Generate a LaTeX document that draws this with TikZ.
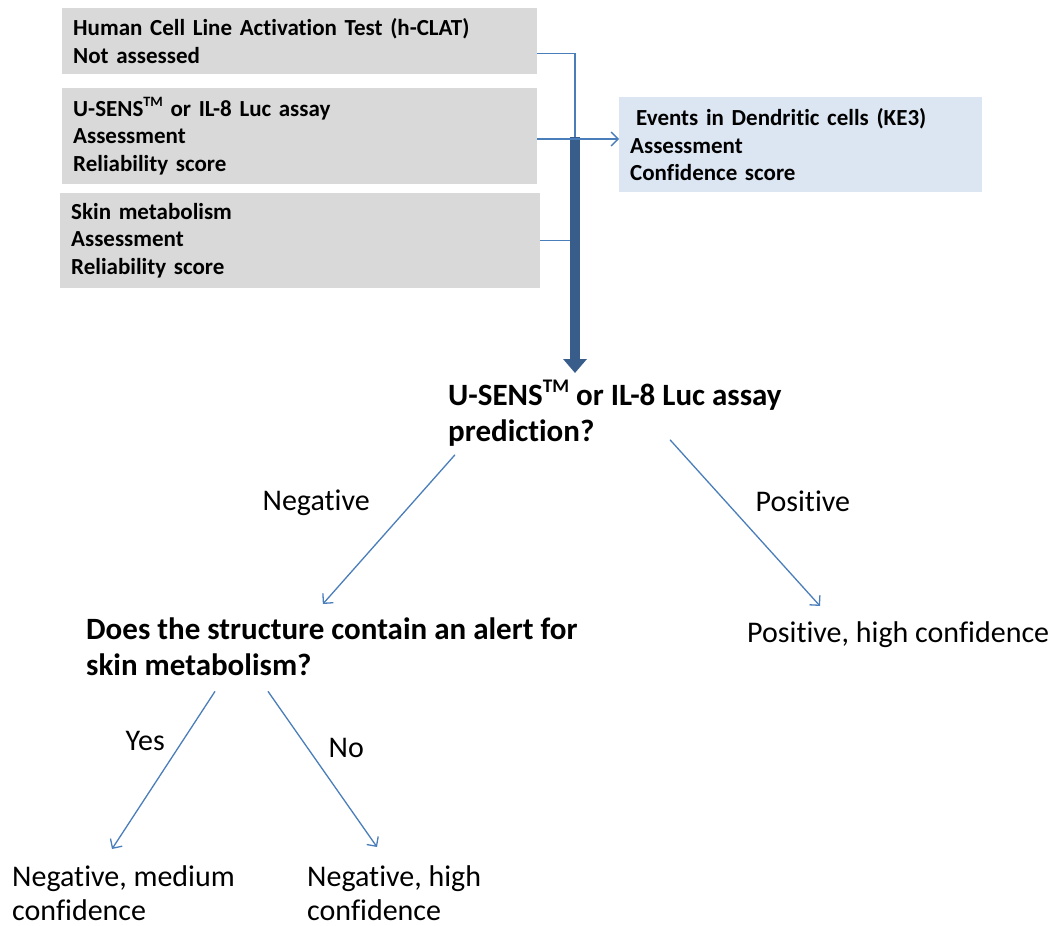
\documentclass[tikz,border=0pt]{standalone}
\usepackage{fontspec}
\setmainfont{Carlito}[Ligatures=NoCommon]
\usetikzlibrary{arrows.meta, positioning}

\definecolor{boxgrey}{RGB}{217,217,217}
\definecolor{dcblue}{RGB}{220,230,242}
\definecolor{lineblue}{RGB}{74,126,187}
\definecolor{bardark}{RGB}{56,93,138}

\newcommand{\tmark}{\raisebox{0.42em}{\scalebox{0.62}{TM}}}

\tikzset{
  inbox/.style={anchor=north west, fill=boxgrey, align=left, inner xsep=11pt, inner ysep=0pt,
    font=\fontsize{23}{27.5}\selectfont\bfseries},
  question/.style={anchor=north west, inner sep=0pt, align=left, font=\fontsize{31}{36}\selectfont\bfseries},
  answer/.style={inner sep=0pt, align=left, font=\fontsize{30}{34}\selectfont},
  flow/.style={draw=lineblue, line width=1.3pt},
  flowarrow/.style={flow, -{Straight Barb[length=7pt, width=14pt]}},
}

\begin{document}
\begin{tikzpicture}[x=1pt, y=-1pt]
  \useasboundingbox (0,0) rectangle (1061,926);

  % input boxes
  \node[inbox, text width=453pt, minimum height=66pt] (hclat) at (62,8)
    {Human Cell Line Activation Test (h-CLAT)\\Not assessed};
  \node[inbox, text width=453pt, minimum height=96pt] (usens) at (62,88)
    {U-SENS\tmark{} or IL-8 Luc assay\\Assessment\\Reliability score};
  \node[inbox, text width=458pt, minimum height=95pt] (skin) at (60,193)
    {Skin metabolism\\Assessment\\Reliability score};
  \node[inbox, fill=dcblue, text width=341pt, minimum height=95pt] (dc) at (619,97)
    {\hspace*{6pt}Events in Dendritic cells (KE3)\\Assessment\\Confidence score};

  \coordinate (bartop) at (575,139);
  \draw[flow] ([yshift=-12pt]hclat.east) -| (bartop);
  \draw[flow] (skin.east) -- (skin.east -| bartop);
  \draw[bardark, line width=10pt, -{Triangle[width=23pt, length=14pt]}, shorten >=7pt]
    ([yshift=2pt]bartop) -- (bartop |- 0,380);
  \draw[flowarrow] (usens.east |- bartop) -- (dc.west |- bartop);

  % decision tree
  \node[question] (q1) at (448,380) {U-SENS\tmark{} or IL-8 Luc assay\\prediction?};
  \node[question] (q2) at (86,618) {Does the structure contain an alert for\\skin metabolism?};
  \node[answer, anchor=base west] (posres) at (747,642) {Positive, high confidence};
  \node[answer, anchor=north west] (negmed) at (12,865) {Negative, medium\\confidence};
  \node[answer, anchor=north west] (neghigh) at (307,865) {Negative, high\\confidence};

  \draw[flowarrow] ([shift={(7pt,-8pt)}]q1.south west) -- ([shift={(-9pt,14pt)}]q2.north)
    node[answer, anchor=base west] (neglbl) at (262,510) {Negative};
  \draw[flowarrow] ([shift={(222pt,7pt)}]q1.south west) -- ([shift={(73pt,15pt)}]posres.north west)
    node[answer, anchor=base west] (poslbl) at (755,511) {Positive};
  \draw[flowarrow] ([shift={(129pt,-15pt)}]q2.south west) -- ([shift={(100pt,16pt)}]negmed.north west)
    node[answer, anchor=base west] (yeslbl) at (125,750) {Yes};
  \draw[flowarrow] ([shift={(182pt,-15pt)}]q2.south west) -- ([shift={(70pt,18pt)}]neghigh.north west)
    node[answer, anchor=base west] (nolbl) at (328,757) {No};
\end{tikzpicture}
\end{document}
